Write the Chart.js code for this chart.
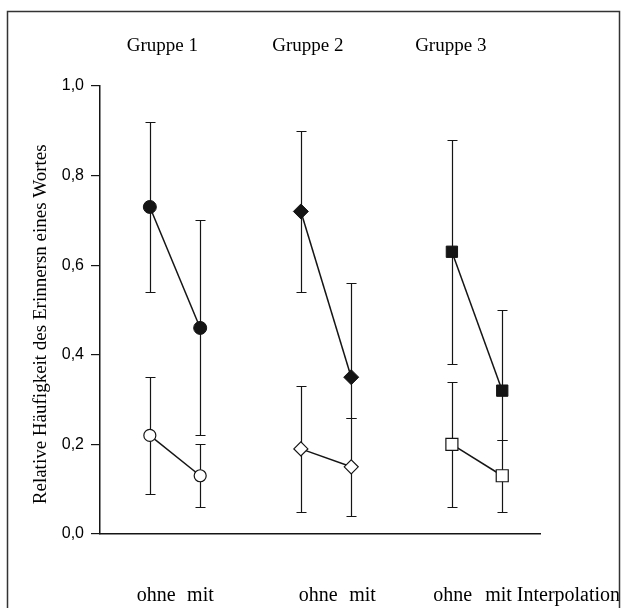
<!DOCTYPE html>
<html>
<head>
<meta charset="utf-8">
<script src="https://cdn.jsdelivr.net/npm/chart.js@4.4.0/dist/chart.umd.min.js"></script>
<style>
  html, body { margin: 0; padding: 0; background: #fff; }
  #wrap { position: relative; width: 627px; height: 608px; }
</style>
</head>
<body>
<div id="wrap"><canvas id="chart" width="627" height="608"></canvas></div>
<script>
// Werte
const groupLabels = ['Gruppe 1', 'Gruppe 2', 'Gruppe 3'];
const conditionLabels = ['ohne', 'mit', 'ohne', 'mit', 'ohne', 'mit Interpolation'];
const yTicks = [0, 0.2, 0.4, 0.6, 0.8, 1.0];
const yTitle = 'Relative Häufigkeit des Erinnersn eines Wortes';

// gefuellte Symbole (obere Kurven): [ohne, mit] je Gruppe
const filledMean = [[0.73, 0.46], [0.72, 0.35], [0.63, 0.32]];
const filledLow  = [[0.54, 0.22], [0.54, 0.26], [0.38, 0.21]];
const filledHigh = [[0.92, 0.70], [0.90, 0.56], [0.88, 0.50]];

// offene Symbole (untere Kurven)
const openMean = [[0.22, 0.13], [0.19, 0.15], [0.20, 0.13]];
const openLow  = [[0.09, 0.06], [0.05, 0.04], [0.06, 0.05]];
const openHigh = [[0.35, 0.20], [0.33, 0.26], [0.34, 0.21]];

// Layout
const INK = '#151515';
const SERIF = "'Liberation Serif', 'Times New Roman', serif";
const SANS = "'Liberation Sans', Arial, sans-serif";
const pointStyles = ['circle', 'rectRot', 'rect'];
const filledRadius = [6.5, 7.5, 8];
const openRadius = [6, 7, 8.5];
const groupLabelAt = [-0.46, 2.43, 5.27];
const conditionLabelAt = [-0.26, 0.74, 2.96, 3.96, 5.63, 6.66];

// x-Position eines Punktes: Gruppe g, Bedingung c (0 = ohne, 1 = mit)
const xOf = (g, c) => g * 3 + c;

const datasets = [];
groupLabels.forEach((name, g) => {
    datasets.push({
        label: name + ' gefuellt',
        data: filledMean[g].map((v, c) => ({ x: xOf(g, c), y: v })),
        borderColor: INK,
        borderWidth: 1.5,
        backgroundColor: INK,
        pointStyle: pointStyles[g],
        pointRadius: filledRadius[g],
        pointBackgroundColor: INK,
        pointBorderColor: INK,
        pointBorderWidth: 1,
        tension: 0
    });
    datasets.push({
        label: name + ' offen',
        data: openMean[g].map((v, c) => ({ x: xOf(g, c), y: v })),
        borderColor: INK,
        borderWidth: 1.5,
        backgroundColor: '#fff',
        pointStyle: pointStyles[g],
        pointRadius: openRadius[g],
        pointBackgroundColor: '#fff',
        pointBorderColor: INK,
        pointBorderWidth: 1.2,
        tension: 0
    });
});

// Fehlerbalken ueber die Skalen zeichnen
const errorBarPlugin = {
    id: 'errorBars',
    beforeDatasetsDraw(chart) {
        const { ctx } = chart;
        const x = chart.scales.x;
        const y = chart.scales.y;
        const cap = 5;
        ctx.save();
        ctx.strokeStyle = INK;
        ctx.lineWidth = 1.2;
        const drawBars = (low, high) => {
            low.forEach((pair, g) => {
                pair.forEach((lo, c) => {
                    const px = Math.round(x.getPixelForValue(xOf(g, c))) + 0.5;
                    const y1 = Math.round(y.getPixelForValue(lo)) + 0.5;
                    const y2 = Math.round(y.getPixelForValue(high[g][c])) + 0.5;
                    ctx.beginPath();
                    ctx.moveTo(px, y1);
                    ctx.lineTo(px, y2);
                    ctx.moveTo(px - cap, y1);
                    ctx.lineTo(px + cap, y1);
                    ctx.moveTo(px - cap, y2);
                    ctx.lineTo(px + cap, y2);
                    ctx.stroke();
                });
            });
        };
        drawBars(filledLow, filledHigh);
        drawBars(openLow, openHigh);
        ctx.restore();
    }
};

// Rahmen um die ganze Abbildung
const framePlugin = {
    id: 'frame',
    afterDraw(chart) {
        const { ctx } = chart;
        ctx.save();
        ctx.strokeStyle = '#333';
        ctx.lineWidth = 1.5;
        ctx.strokeRect(7.5, 11.5, 612, 600);
        ctx.restore();
    }
};

const chart = new Chart(document.getElementById('chart'), {
    type: 'line',
    data: { datasets },
    options: {
        responsive: false,
        animation: false,
        devicePixelRatio: 1,
        layout: { padding: { left: 0, top: 0, right: 87, bottom: 0 } },
        plugins: {
            legend: { display: false },
            tooltip: { enabled: false }
        },
        scales: {
            x: {
                type: 'linear',
                position: 'bottom',
                min: -0.99,
                max: 7.75,
                grid: { display: false },
                border: { display: true, color: INK, width: 1.5 },
                afterBuildTicks: (scale) => {
                    scale.ticks = conditionLabelAt.map(v => ({ value: v }));
                },
                afterFit: (scale) => {
                    scale.height = 74;
                    scale.paddingLeft = 0;
                    scale.paddingRight = 0;
                },
                ticks: {
                    autoSkip: false,
                    maxRotation: 0,
                    align: 'start',
                    padding: 42,
                    color: '#000',
                    font: { family: SERIF, size: 20 },
                    callback: (v, i) => conditionLabels[i]
                }
            },
            xTop: {
                type: 'linear',
                position: 'top',
                min: -0.99,
                max: 7.75,
                grid: { display: false },
                border: { display: false },
                afterBuildTicks: (scale) => {
                    scale.ticks = groupLabelAt.map(v => ({ value: v }));
                },
                afterFit: (scale) => {
                    scale.height = 86;
                    scale.paddingLeft = 0;
                    scale.paddingRight = 0;
                },
                ticks: {
                    autoSkip: false,
                    maxRotation: 0,
                    align: 'start',
                    padding: 21,
                    color: '#000',
                    font: { family: SERIF, size: 19 },
                    callback: (v, i) => groupLabels[i]
                }
            },
            y: {
                type: 'linear',
                min: 0,
                max: 1,
                afterBuildTicks: (scale) => {
                    scale.ticks = yTicks.map(v => ({ value: v }));
                },
                afterFit: (scale) => {
                    scale.width = 100;
                },
                grid: {
                    display: true,
                    drawOnChartArea: false,
                    drawTicks: true,
                    tickLength: 9,
                    color: INK,
                    lineWidth: 1.2
                },
                border: { display: true, color: INK, width: 1.5 },
                ticks: {
                    padding: 7,
                    color: '#000',
                    font: { family: SANS, size: 16 },
                    callback: (v) => v.toFixed(1).replace('.', ',')
                },
                title: {
                    display: true,
                    // Leerzeichen am Ende schieben den Text etwas nach unten
                    text: yTitle + '\u00a0'.repeat(6),
                    color: '#000',
                    font: { family: SERIF, size: 19, weight: 'normal' },
                    padding: { top: 30, bottom: 0 }
                }
            }
        }
    },
    plugins: [errorBarPlugin, framePlugin]
});
</script>
</body>
</html>
